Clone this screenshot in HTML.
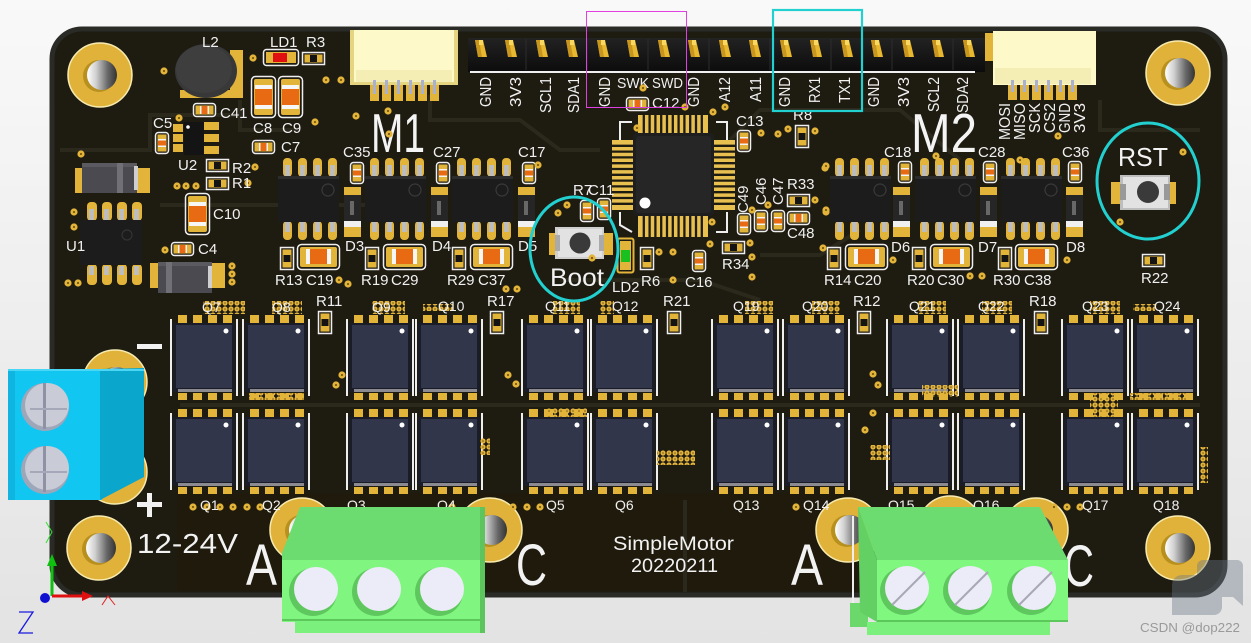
<!DOCTYPE html>
<html><head><meta charset="utf-8"><style>
html,body{margin:0;padding:0;background:#f2f2f2;}
svg{display:block;}
text{font-family:"Liberation Sans",sans-serif;}
</style></head><body>
<svg width="1251" height="643" viewBox="0 0 1251 643" xmlns="http://www.w3.org/2000/svg">
<defs>
<linearGradient id="bg" x1="0" y1="0" x2="0" y2="1"><stop offset="0" stop-color="#f9f9f9"/><stop offset="1" stop-color="#e3e3e3"/></linearGradient>
<linearGradient id="hole" x1="0" y1="0" x2="1" y2="0"><stop offset="0" stop-color="#ffffff"/><stop offset="0.3" stop-color="#d0d0d0"/><stop offset="0.7" stop-color="#666"/><stop offset="1" stop-color="#333"/></linearGradient>
<linearGradient id="hdr" x1="0" y1="0" x2="0" y2="1"><stop offset="0" stop-color="#222"/><stop offset="1" stop-color="#0c0c0c"/></linearGradient>
<pattern id="vias" width="6" height="6" patternUnits="userSpaceOnUse"><circle cx="3" cy="3" r="2.6" fill="#e3b43a"/><circle cx="3" cy="3" r="0.8" fill="#7a5a10"/></pattern>
<g id="mount"><circle r="32" fill="#e0b23a" stroke="#f7ebb0" stroke-width="1.5"/><circle cx="-1" cy="1" r="16" fill="#b8901e"/><circle cx="2" cy="0" r="15" fill="url(#hole)"/></g>
<g id="q">
<rect x="-3" y="-4" width="2" height="77" fill="#eee"/><rect x="63" y="-4" width="2" height="77" fill="#eee"/>
<rect x="5" y="-8" width="9" height="8" fill="#e3b43a"/><rect x="20" y="-8" width="9" height="8" fill="#e3b43a"/><rect x="35" y="-8" width="9" height="8" fill="#e3b43a"/><rect x="50" y="-8" width="9" height="8" fill="#e3b43a"/>
<rect x="0" y="0" width="62" height="69" fill="#1a1d28"/><rect x="3" y="2" width="56" height="63" fill="#31364a"/>
<rect x="5" y="70" width="9" height="7" fill="#e3b43a"/><rect x="20" y="70" width="9" height="7" fill="#e3b43a"/><rect x="35" y="70" width="9" height="7" fill="#e3b43a"/><rect x="50" y="70" width="9" height="7" fill="#e3b43a"/>
<rect x="5" y="66" width="54" height="3" fill="#8a8a90"/>
<circle cx="53" cy="8" r="2.5" fill="#fff"/>
</g>
<g id="ic">
<rect x="5" y="-18" width="9" height="19" rx="4" fill="#e3b43a"/><rect x="20" y="-18" width="9" height="19" rx="4" fill="#e3b43a"/><rect x="35" y="-18" width="9" height="19" rx="4" fill="#e3b43a"/><rect x="50" y="-18" width="9" height="19" rx="4" fill="#e3b43a"/>
<rect x="7" y="-11" width="5" height="11" fill="#bdbdbd"/><rect x="22" y="-11" width="5" height="11" fill="#bdbdbd"/><rect x="37" y="-11" width="5" height="11" fill="#bdbdbd"/><rect x="52" y="-11" width="5" height="11" fill="#bdbdbd"/>
<rect x="5" y="45" width="9" height="19" rx="4" fill="#e3b43a"/><rect x="20" y="45" width="9" height="19" rx="4" fill="#e3b43a"/><rect x="35" y="45" width="9" height="19" rx="4" fill="#e3b43a"/><rect x="50" y="45" width="9" height="19" rx="4" fill="#e3b43a"/>
<rect x="7" y="46" width="5" height="10" fill="#bdbdbd"/><rect x="22" y="46" width="5" height="10" fill="#bdbdbd"/><rect x="37" y="46" width="5" height="10" fill="#bdbdbd"/><rect x="52" y="46" width="5" height="10" fill="#bdbdbd"/>
<rect x="0" y="0" width="61" height="46" fill="#1c1c1c"/><rect x="0" y="0" width="61" height="3" fill="#2c2c2c"/>
<circle cx="50" cy="14" r="6" fill="none" stroke="#3a3a3a" stroke-width="1.2"/>
</g>
<g id="d"><rect x="0" y="0" width="17" height="10" fill="#e3b43a"/><rect x="0" y="40" width="17" height="10" fill="#e3b43a"/><rect x="0" y="8" width="17" height="28" fill="#262626"/><rect x="0" y="34" width="17" height="6" fill="#f0f0f0"/><rect x="6" y="14" width="4" height="14" fill="#aaa" opacity="0.5"/></g>
<g id="r"><rect x="0.5" y="0.5" width="13" height="22" fill="none" stroke="#eee" stroke-width="1.5"/><rect x="2.5" y="2.5" width="9" height="18" fill="#e3b43a"/><rect x="3.5" y="8" width="7" height="7" fill="#141414"/></g>
<g id="rh"><rect x="0.5" y="0.5" width="22" height="12" fill="none" stroke="#eee" stroke-width="1.5"/><rect x="2.5" y="2.5" width="18" height="8" fill="#e3b43a"/><rect x="8" y="3" width="7" height="7" fill="#141414"/></g>
<g id="c"><rect x="0.5" y="0.5" width="13" height="21" rx="3" fill="none" stroke="#eee" stroke-width="1.5"/><rect x="2.5" y="2.5" width="9" height="17" fill="#e3b43a"/><rect x="3" y="7" width="8" height="8" fill="#f4f4f4"/><rect x="3" y="8.5" width="8" height="5" fill="#e86a12"/></g>
<g id="ch"><rect x="0.5" y="0.5" width="22" height="13" rx="3" fill="none" stroke="#eee" stroke-width="1.5"/><rect x="2.5" y="2.5" width="18" height="9" fill="#e3b43a"/><rect x="7" y="3" width="9" height="8" fill="#f4f4f4"/><rect x="8.5" y="3" width="6" height="8" fill="#e86a12"/></g>
<g id="bc"><rect x="0.5" y="0.5" width="42" height="25" rx="4" fill="none" stroke="#eee" stroke-width="1.5"/><rect x="3" y="3" width="37" height="20" rx="2" fill="#e3b43a"/><rect x="9" y="5" width="25" height="15" fill="#f6f6f6"/><rect x="13" y="5" width="17" height="15" fill="#e86a12"/></g>
<g id="bcv"><rect x="0.5" y="0.5" width="24" height="41" rx="4" fill="none" stroke="#eee" stroke-width="1.5"/><rect x="3" y="3" width="19" height="36" rx="2" fill="#e3b43a"/><rect x="4" y="9" width="17" height="24" fill="#f6f6f6"/><rect x="4" y="13" width="17" height="16" fill="#e86a12"/></g>
<g id="pin"><polygon points="-5,40 3,40 7,57 -2,57" fill="#e8b830"/><polygon points="-5,40 -1,40 2,57 -2,57" fill="#c8961e"/><rect x="-1" y="40" width="4" height="5" fill="#f8d860"/></g>
<g id="v"><circle r="3.6" fill="#e3b43a"/><circle r="1.1" fill="#7a5a10"/></g>
</defs>

<rect width="1251" height="643" fill="url(#bg)"/>

<!-- board -->
<rect x="52" y="29" width="1173" height="566" rx="30" fill="#1e1b11" stroke="#2a2a26" stroke-width="5"/>
<rect x="177" y="493" width="680" height="98" fill="#1f1a0c"/>
<g stroke="#2b281c" stroke-width="4" fill="none">
<polyline points="60,150 150,150 150,115 240,115"/>
<polyline points="160,205 380,205 380,175"/>
<polyline points="240,100 240,130 300,130"/>
<polyline points="430,95 430,120 520,120 560,150 600,150"/>
<polyline points="730,140 760,110 900,110 960,160"/>
<polyline points="560,280 700,280 760,300"/>
<polyline points="180,405 1200,405"/>
<polyline points="1100,100 1100,130 1200,130"/>
<polyline points="760,255 820,255 860,230"/>
<polyline points="685,500 685,592"/>
</g>

<!-- mounting holes -->
<use href="#mount" x="100" y="75"/>
<use href="#mount" x="1178" y="73"/>
<use href="#mount" x="99" y="548"/>
<use href="#mount" x="1178" y="548"/>
<use href="#mount" x="115" y="382"/>
<use href="#mount" x="115" y="472"/>
<use href="#mount" x="302" y="530"/>
<use href="#mount" x="490" y="530"/>
<use href="#mount" x="848" y="530"/>
<use href="#mount" x="950" y="528"/>
<use href="#mount" x="1036" y="530"/>

<!-- JST connectors -->
<rect x="350" y="30" width="108" height="55" fill="#e6d580"/>
<rect x="354" y="30" width="100" height="52" fill="#fdf9c8"/>
<rect x="356" y="70" width="96" height="12" fill="#f4eeb4"/>
<g fill="#e3b43a"><rect x="370" y="85" width="9" height="16"/><rect x="382" y="85" width="9" height="16"/><rect x="394" y="85" width="9" height="16"/><rect x="406" y="85" width="9" height="16"/><rect x="418" y="85" width="9" height="16"/><rect x="430" y="85" width="9" height="16"/></g>
<g fill="#aab0d0"><rect x="373" y="80" width="3" height="14"/><rect x="385" y="80" width="3" height="14"/><rect x="397" y="80" width="3" height="14"/><rect x="409" y="80" width="3" height="14"/><rect x="421" y="80" width="3" height="14"/><rect x="433" y="80" width="3" height="14"/></g>
<rect x="985" y="33" width="12" height="28" fill="#e3b43a"/>
<rect x="993" y="31" width="103" height="54" fill="#fdf9c8"/>
<rect x="995" y="68" width="96" height="16" fill="#f4eeb4"/>
<g fill="#e3b43a"><rect x="1008" y="85" width="9" height="15"/><rect x="1020" y="85" width="9" height="15"/><rect x="1032" y="85" width="9" height="15"/><rect x="1044" y="85" width="9" height="15"/><rect x="1056" y="85" width="9" height="15"/><rect x="1068" y="85" width="9" height="15"/></g>
<g fill="#aab0d0"><rect x="1011" y="80" width="3" height="12"/><rect x="1023" y="80" width="3" height="12"/><rect x="1035" y="80" width="3" height="12"/><rect x="1047" y="80" width="3" height="12"/><rect x="1059" y="80" width="3" height="12"/><rect x="1071" y="80" width="3" height="12"/></g>

<!-- pin header -->
<rect x="468" y="38" width="517" height="34" fill="url(#hdr)"/>
<rect x="470" y="71" width="505" height="2" fill="#f0f0f0"/>
<g stroke="#2c2c2c" stroke-width="1"><line x1="526" y1="39" x2="526" y2="70"/><line x1="587" y1="39" x2="587" y2="70"/><line x1="648" y1="39" x2="648" y2="70"/><line x1="709" y1="39" x2="709" y2="70"/><line x1="770" y1="39" x2="770" y2="70"/><line x1="831" y1="39" x2="831" y2="70"/><line x1="892" y1="39" x2="892" y2="70"/><line x1="953" y1="39" x2="953" y2="70"/></g>
<use href="#pin" x="480"/><use href="#pin" x="510"/><use href="#pin" x="541"/><use href="#pin" x="571"/><use href="#pin" x="602"/><use href="#pin" x="632"/><use href="#pin" x="663"/><use href="#pin" x="693"/><use href="#pin" x="724"/><use href="#pin" x="754"/><use href="#pin" x="785"/><use href="#pin" x="815"/><use href="#pin" x="846"/><use href="#pin" x="876"/><use href="#pin" x="907"/><use href="#pin" x="937"/><use href="#pin" x="968"/>

<!-- header labels -->
<g fill="#f2f2f2" font-size="16" text-anchor="end">
<text transform="translate(491,77) rotate(-90)" textLength="30" lengthAdjust="spacingAndGlyphs">GND</text>
<text transform="translate(521,77) rotate(-90)" textLength="30" lengthAdjust="spacingAndGlyphs">3V3</text>
<text transform="translate(551,77) rotate(-90)" textLength="36" lengthAdjust="spacingAndGlyphs">SCL1</text>
<text transform="translate(579,77) rotate(-90)" textLength="36" lengthAdjust="spacingAndGlyphs">SDA1</text>
<text transform="translate(610,77) rotate(-90)" textLength="30" lengthAdjust="spacingAndGlyphs">GND</text>
<text transform="translate(699,77) rotate(-90)" textLength="30" lengthAdjust="spacingAndGlyphs">GND</text>
<text transform="translate(730,77) rotate(-90)" textLength="25" lengthAdjust="spacingAndGlyphs">A12</text>
<text transform="translate(761,77) rotate(-90)" textLength="25" lengthAdjust="spacingAndGlyphs">A11</text>
<text transform="translate(790,77) rotate(-90)" textLength="30" lengthAdjust="spacingAndGlyphs">GND</text>
<text transform="translate(820,77) rotate(-90)" textLength="26" lengthAdjust="spacingAndGlyphs">RX1</text>
<text transform="translate(850,77) rotate(-90)" textLength="26" lengthAdjust="spacingAndGlyphs">TX1</text>
<text transform="translate(879,77) rotate(-90)" textLength="30" lengthAdjust="spacingAndGlyphs">GND</text>
<text transform="translate(909,77) rotate(-90)" textLength="30" lengthAdjust="spacingAndGlyphs">3V3</text>
<text transform="translate(939,77) rotate(-90)" textLength="35" lengthAdjust="spacingAndGlyphs">SCL2</text>
<text transform="translate(968,77) rotate(-90)" textLength="36" lengthAdjust="spacingAndGlyphs">SDA2</text>
<text transform="translate(1010,103) rotate(-90)" textLength="37" lengthAdjust="spacingAndGlyphs">MOSI</text>
<text transform="translate(1025,103) rotate(-90)" textLength="37" lengthAdjust="spacingAndGlyphs">MISO</text>
<text transform="translate(1040,103) rotate(-90)" textLength="30" lengthAdjust="spacingAndGlyphs">SCK</text>
<text transform="translate(1055,103) rotate(-90)" textLength="30" lengthAdjust="spacingAndGlyphs">CS2</text>
<text transform="translate(1070,103) rotate(-90)" textLength="30" lengthAdjust="spacingAndGlyphs">GND</text>
<text transform="translate(1085,103) rotate(-90)" textLength="30" lengthAdjust="spacingAndGlyphs">3V3</text>
</g>
<g fill="#f2f2f2" font-size="15"><text x="617" y="88" textLength="32" lengthAdjust="spacingAndGlyphs">SWK</text><text x="652" y="88" textLength="31" lengthAdjust="spacingAndGlyphs">SWD</text></g>

<!-- M1 / M2 -->
<g fill="#f4f4f4" font-size="55"><text x="371" y="152" textLength="54" lengthAdjust="spacingAndGlyphs">M1</text><text x="911" y="152" textLength="66" lengthAdjust="spacingAndGlyphs">M2</text></g>

<!-- left power section -->
<rect x="180" y="90" width="63" height="8" fill="#e3b43a"/><rect x="230" y="50" width="13" height="48" fill="#e3b43a"/>
<ellipse cx="206" cy="71" rx="31" ry="27" fill="#383838"/><ellipse cx="204" cy="69" rx="28" ry="24" fill="#3e3e3e"/>
<rect x="263.5" y="49.5" width="35" height="16" rx="3" fill="none" stroke="#eee" stroke-width="1.5"/><rect x="266" y="52" width="30" height="11" fill="#e3b43a"/><rect x="273" y="53" width="14" height="9" fill="#e01010"/>
<use href="#rh" x="302" y="52"/>
<use href="#bcv" x="251" y="76"/><use href="#bcv" x="278" y="76"/>
<use href="#ch" x="193" y="103"/>
<g fill="#e3b43a"><rect x="173" y="124" width="10" height="8"/><rect x="173" y="134" width="10" height="8"/><rect x="173" y="144" width="10" height="8"/><rect x="204" y="122" width="15" height="8"/><rect x="204" y="134" width="15" height="8"/><rect x="204" y="146" width="15" height="8"/></g>
<rect x="184" y="122" width="20" height="33" fill="#141414"/><circle cx="188" cy="127" r="1.8" fill="#fff"/>
<use href="#c" x="155" y="132"/>
<use href="#ch" x="252" y="140"/>
<use href="#rh" x="206" y="159"/><use href="#rh" x="206" y="177"/>
<use href="#bcv" x="185" y="193"/>
<use href="#ch" x="171" y="242"/>
<!-- SMA diodes -->
<rect x="75" y="168" width="75" height="25" fill="#e3b43a"/><rect x="82" y="163" width="55" height="30" fill="#4a4a50"/><rect x="82" y="163" width="55" height="4" fill="#5a5a60"/><rect x="117" y="163" width="6" height="30" fill="#707076"/><rect x="134" y="166" width="4" height="24" fill="#cfcfcf"/>
<rect x="150" y="263" width="75" height="25" fill="#e3b43a"/><rect x="158" y="262" width="54" height="31" fill="#4a4a50"/><rect x="158" y="262" width="54" height="4" fill="#5a5a60"/><rect x="166" y="262" width="6" height="31" fill="#707076"/><rect x="208" y="266" width="4" height="22" fill="#cfcfcf"/>
<!-- U1 -->
<g fill="#e3b43a"><rect x="87" y="202" width="10" height="19" rx="4"/><rect x="102" y="202" width="10" height="19" rx="4"/><rect x="117" y="202" width="10" height="19" rx="4"/><rect x="132" y="202" width="10" height="19" rx="4"/><rect x="87" y="264" width="10" height="21" rx="4"/><rect x="102" y="264" width="10" height="21" rx="4"/><rect x="117" y="264" width="10" height="21" rx="4"/><rect x="132" y="264" width="10" height="21" rx="4"/></g>
<g fill="#bdbdbd"><rect x="89" y="209" width="5" height="11"/><rect x="104" y="209" width="5" height="11"/><rect x="119" y="209" width="5" height="11"/><rect x="134" y="209" width="5" height="11"/><rect x="89" y="266" width="5" height="9"/><rect x="104" y="266" width="5" height="9"/><rect x="119" y="266" width="5" height="9"/><rect x="134" y="266" width="5" height="9"/></g>
<rect x="80" y="220" width="62" height="45" fill="#1c1c1c"/><circle cx="127" cy="235" r="5" fill="none" stroke="#333" stroke-width="1.2"/>

<!-- driver ICs -->
<use href="#ic" x="278" y="176"/><use href="#ic" x="365" y="176"/><use href="#ic" x="452" y="176"/>
<use href="#ic" x="830" y="176"/><use href="#ic" x="915" y="176"/><use href="#ic" x="1001" y="176"/>
<use href="#d" x="344" y="187"/><use href="#d" x="431" y="187"/><use href="#d" x="518" y="187"/>
<use href="#d" x="893" y="187"/><use href="#d" x="980" y="187"/><use href="#d" x="1066" y="187"/>
<use href="#c" x="350" y="162"/><use href="#c" x="436" y="162"/><use href="#c" x="522" y="162"/>
<use href="#c" x="898" y="161"/><use href="#c" x="983" y="161"/><use href="#c" x="1068" y="161"/>
<use href="#r" x="280" y="247"/><use href="#r" x="365" y="247"/><use href="#r" x="452" y="247"/>
<use href="#r" x="827" y="247"/><use href="#r" x="912" y="247"/><use href="#r" x="998" y="247"/>
<use href="#bc" x="297" y="244"/><use href="#bc" x="383" y="244"/><use href="#bc" x="470" y="244"/>
<use href="#bc" x="845" y="244"/><use href="#bc" x="930" y="244"/><use href="#bc" x="1015" y="244"/>
<use href="#r" x="318" y="311"/><use href="#r" x="490" y="311"/><use href="#r" x="667" y="311"/>
<use href="#r" x="857" y="311"/><use href="#r" x="1034" y="311"/>
<use href="#rh" x="1142" y="254"/>

<!-- MCU -->
<g fill="#e8c050">
<rect x="638" y="115" width="70" height="19"/><rect x="612" y="140" width="22" height="70"/><rect x="713" y="140" width="22" height="70"/><rect x="638" y="215" width="70" height="22"/>
</g>
<g stroke="#1e1b11" stroke-width="2.3">
<path d="M643.8 115v19M649.6 115v19M655.4 115v19M661.2 115v19M667 115v19M672.8 115v19M678.6 115v19M684.4 115v19M690.2 115v19M696 115v19M701.8 115v19"/>
<path d="M643.8 215v22M649.6 215v22M655.4 215v22M661.2 215v22M667 215v22M672.8 215v22M678.6 215v22M684.4 215v22M690.2 215v22M696 215v22M701.8 215v22"/>
<path d="M612 145.8h22M612 151.6h22M612 157.4h22M612 163.2h22M612 169h22M612 174.8h22M612 180.6h22M612 186.4h22M612 192.2h22M612 198h22M612 203.8h22"/>
<path d="M713 145.8h22M713 151.6h22M713 157.4h22M713 163.2h22M713 169h22M713 174.8h22M713 180.6h22M713 186.4h22M713 192.2h22M713 198h22M713 203.8h22"/>
</g>
<rect x="633" y="133" width="81" height="83" rx="4" fill="#1e1e1e"/><rect x="636" y="136" width="75" height="77" rx="3" fill="#262626"/>
<circle cx="645" cy="203" r="5.5" fill="#fff"/>
<g stroke="#eee" stroke-width="2" fill="none"><polyline points="620,140 620,122 632,122"/><polyline points="716,122 727,122 727,140"/><polyline points="620,212 620,225 632,232"/><polyline points="716,232 727,232 727,212"/></g>
<use href="#ch" x="626" y="97"/>
<use href="#c" x="737" y="130"/>
<use href="#r" x="795" y="125"/>
<use href="#c" x="580" y="200"/><use href="#c" x="597" y="198"/>
<use href="#c" x="737" y="213"/><use href="#c" x="754" y="210"/><use href="#c" x="771" y="210"/>
<use href="#rh" x="787" y="194"/><use href="#ch" x="787" y="211"/>
<use href="#rh" x="722" y="241"/>
<use href="#c" x="692" y="250"/>
<use href="#r" x="640" y="247"/>
<rect x="617.5" y="238.5" width="16" height="34" rx="2" fill="none" stroke="#e3b43a" stroke-width="2"/><rect x="620" y="241" width="11" height="29" fill="#e3b43a"/><rect x="621" y="250" width="9" height="12" fill="#18c020"/>

<!-- Boot button -->
<rect x="549" y="233" width="9" height="22" fill="#e3b43a"/><rect x="602" y="233" width="11" height="22" fill="#e3b43a"/>
<rect x="555" y="227" width="49" height="32" fill="#cfcfcf"/><rect x="558" y="229" width="44" height="28" fill="#e2e2e2"/><rect x="555" y="235" width="5" height="16" fill="#aaa"/><rect x="599" y="235" width="5" height="16" fill="#aaa"/>
<circle cx="580" cy="243" r="10.5" fill="#3a3a3a"/>
<text x="550" y="286" font-size="25" fill="#f2f2f2" textLength="54" lengthAdjust="spacingAndGlyphs">Boot</text>
<!-- RST button -->
<rect x="1111" y="182" width="11" height="22" fill="#e3b43a"/><rect x="1166" y="182" width="10" height="22" fill="#e3b43a"/>
<rect x="1120" y="175" width="50" height="35" fill="#bdbdbd"/><rect x="1123" y="177" width="45" height="31" fill="#e2e2e2"/><rect x="1120" y="184" width="6" height="16" fill="#999"/><rect x="1164" y="184" width="6" height="16" fill="#999"/>
<circle cx="1148" cy="192" r="11" fill="#3a3a3a"/>
<text x="1118" y="166" font-size="26" fill="#f4f4f4" textLength="50" lengthAdjust="spacingAndGlyphs">RST</text>

<!-- MOSFETs -->
<g>
<use href="#q" x="173" y="323"/><use href="#q" x="245" y="323"/><use href="#q" x="349" y="323"/><use href="#q" x="418" y="323"/><use href="#q" x="524" y="323"/><use href="#q" x="593" y="323"/><use href="#q" x="714" y="323"/><use href="#q" x="785" y="323"/><use href="#q" x="889" y="323"/><use href="#q" x="960" y="323"/><use href="#q" x="1064" y="323"/><use href="#q" x="1134" y="323"/>
<use href="#q" x="173" y="417"/><use href="#q" x="245" y="417"/><use href="#q" x="349" y="417"/><use href="#q" x="418" y="417"/><use href="#q" x="524" y="417"/><use href="#q" x="593" y="417"/><use href="#q" x="714" y="417"/><use href="#q" x="785" y="417"/><use href="#q" x="889" y="417"/><use href="#q" x="960" y="417"/><use href="#q" x="1064" y="417"/><use href="#q" x="1134" y="417"/>
</g>

<!-- via clusters -->
<g fill="url(#vias)">
<rect x="203" y="301" width="42" height="13"/><rect x="272" y="301" width="30" height="13"/><rect x="372" y="301" width="33" height="13"/><rect x="423" y="304" width="30" height="7"/>
<rect x="553" y="301" width="27" height="13"/><rect x="600" y="301" width="14" height="13"/><rect x="745" y="301" width="28" height="13"/><rect x="812" y="301" width="28" height="13"/>
<rect x="918" y="301" width="28" height="13"/><rect x="982" y="301" width="30" height="13"/><rect x="1090" y="301" width="30" height="13"/><rect x="1133" y="304" width="22" height="7"/>
<rect x="249" y="393" width="55" height="7"/><rect x="545" y="408" width="42" height="9"/><rect x="657" y="450" width="38" height="15"/><rect x="1090" y="393" width="28" height="24"/>
<rect x="870" y="445" width="20" height="15"/><rect x="1200" y="447" width="8" height="36"/><rect x="922" y="385" width="36" height="12"/><rect x="480" y="438" width="10" height="17"/>
<rect x="1130" y="393" width="48" height="7"/><rect x="1150" y="393" width="40" height="7"/>
</g>
<g>
<use href="#v" x="193" y="507"/><use href="#v" x="207" y="507"/><use href="#v" x="220" y="507"/><use href="#v" x="233" y="507"/><use href="#v" x="247" y="507"/><use href="#v" x="260" y="507"/>
<use href="#v" x="452" y="507"/><use href="#v" x="513" y="507"/><use href="#v" x="527" y="507"/><use href="#v" x="540" y="507"/>
<use href="#v" x="796" y="507"/><use href="#v" x="1054" y="507"/><use href="#v" x="1067" y="507"/><use href="#v" x="1080" y="507"/>
<use href="#v" x="164" y="71"/><use href="#v" x="253" y="58"/><use href="#v" x="326" y="80"/><use href="#v" x="341" y="80"/><use href="#v" x="356" y="116"/><use href="#v" x="315" y="122"/><use href="#v" x="389" y="134"/><use href="#v" x="388" y="111"/><use href="#v" x="179" y="118"/>
<use href="#v" x="255" y="167"/><use href="#v" x="248" y="183"/><use href="#v" x="177" y="186"/><use href="#v" x="186" y="186"/><use href="#v" x="196" y="186"/><use href="#v" x="81" y="154"/><use href="#v" x="74" y="212"/><use href="#v" x="74" y="227"/><use href="#v" x="68" y="283"/><use href="#v" x="78" y="283"/>
<use href="#v" x="232" y="266"/><use href="#v" x="232" y="274"/><use href="#v" x="232" y="282"/><use href="#v" x="165" y="250"/>
<use href="#v" x="643" y="88"/><use href="#v" x="685" y="107"/><use href="#v" x="713" y="112"/><use href="#v" x="725" y="107"/><use href="#v" x="637" y="128"/><use href="#v" x="761" y="133"/><use href="#v" x="778" y="134"/><use href="#v" x="788" y="129"/><use href="#v" x="815" y="131"/>
<use href="#v" x="825" y="168"/><use href="#v" x="826" y="212"/><use href="#v" x="752" y="210"/><use href="#v" x="768" y="205"/><use href="#v" x="815" y="200"/><use href="#v" x="710" y="244"/><use href="#v" x="750" y="243"/><use href="#v" x="752" y="257"/><use href="#v" x="752" y="277"/>
<use href="#v" x="659" y="252"/><use href="#v" x="673" y="252"/><use href="#v" x="673" y="280"/><use href="#v" x="712" y="222"/><use href="#v" x="558" y="213"/><use href="#v" x="567" y="205"/><use href="#v" x="506" y="289"/><use href="#v" x="517" y="289"/><use href="#v" x="538" y="165"/>
<use href="#v" x="339" y="280"/><use href="#v" x="348" y="284"/><use href="#v" x="592" y="258"/><use href="#v" x="823" y="248"/><use href="#v" x="826" y="166"/><use href="#v" x="826" y="210"/>
<use href="#v" x="1183" y="152"/><use href="#v" x="1120" y="222"/><use href="#v" x="1058" y="136"/><use href="#v" x="970" y="276"/><use href="#v" x="982" y="276"/><use href="#v" x="1067" y="260"/><use href="#v" x="893" y="260"/><use href="#v" x="936" y="156"/><use href="#v" x="1020" y="160"/>
<use href="#v" x="508" y="375"/><use href="#v" x="516" y="384"/><use href="#v" x="873" y="374"/><use href="#v" x="878" y="385"/><use href="#v" x="873" y="413"/><use href="#v" x="865" y="430"/><use href="#v" x="342" y="375"/><use href="#v" x="336" y="385"/>
</g>

<!-- silkscreen labels -->
<g fill="#f0f0f0" font-size="15">
<text x="202" y="47">L2</text><text x="270" y="47">LD1</text><text x="306" y="47">R3</text><text x="220" y="118">C41</text><text x="153" y="128">C5</text><text x="253" y="133">C8</text><text x="282" y="133">C9</text><text x="281" y="152">C7</text>
<text x="178" y="170">U2</text><text x="232" y="173">R2</text><text x="232" y="188">R1</text><text x="213" y="219">C10</text><text x="66" y="251">U1</text><text x="198" y="254">C4</text>
<text x="343" y="157">C35</text><text x="345" y="251">D3</text><text x="275" y="285">R13</text><text x="306" y="285">C19</text><text x="361" y="285">R19</text><text x="391" y="285">C29</text><text x="316" y="306">R11</text>
<text x="433" y="157">C27</text><text x="518" y="157">C17</text><text x="432" y="251">D4</text><text x="518" y="251">D5</text><text x="447" y="285">R29</text><text x="478" y="285">C37</text><text x="487" y="306">R17</text>
<text x="573" y="195">R7</text><text x="588" y="195">C11</text><text x="612" y="292">LD2</text><text x="641" y="286">R6</text><text x="685" y="287">C16</text><text x="663" y="306">R21</text><text x="652" y="108">C12</text><text x="736" y="126">C13</text><text x="793" y="120">R8</text>
<text x="787" y="189">R33</text><text x="787" y="238">C48</text><text x="722" y="269">R34</text>
<text x="884" y="157">C18</text><text x="978" y="157">C28</text><text x="1062" y="157">C36</text><text x="891" y="252">D6</text><text x="978" y="252">D7</text><text x="1066" y="252">D8</text>
<text x="824" y="285">R14</text><text x="854" y="285">C20</text><text x="907" y="285">R20</text><text x="937" y="285">C30</text><text x="993" y="285">R30</text><text x="1024" y="285">C38</text>
<text x="853" y="306">R12</text><text x="1029" y="306">R18</text><text x="1141" y="283">R22</text>
<text transform="translate(748,213) rotate(-90)">C49</text><text transform="translate(766,205) rotate(-90)">C46</text><text transform="translate(783,205) rotate(-90)">C47</text>
</g>
<g fill="#f0f0f0" font-size="14">
<text x="202" y="312">Q7</text><text x="272" y="312">Q8</text><text x="372" y="312">Q9</text><text x="438" y="311">Q10</text><text x="545" y="311">Q11</text><text x="612" y="311">Q12</text>
<text x="733" y="311">Q19</text><text x="802" y="311">Q20</text><text x="909" y="311">Q21</text><text x="978" y="311">Q22</text><text x="1082" y="311">Q23</text><text x="1154" y="311">Q24</text>
<text x="200" y="510">Q1</text><text x="262" y="510">Q2</text><text x="347" y="510">Q3</text><text x="437" y="510">Q4</text><text x="546" y="510">Q5</text><text x="615" y="510">Q6</text>
<text x="733" y="510">Q13</text><text x="803" y="510">Q14</text><text x="888" y="510">Q15</text><text x="973" y="510">Q16</text><text x="1082" y="510">Q17</text><text x="1153" y="510">Q18</text>
</g>

<!-- bottom silkscreen -->
<g fill="#f2f2f2">
<rect x="137" y="344" width="25" height="5"/>
<rect x="137" y="502" width="25" height="5"/><rect x="147" y="493" width="5" height="24"/>
<text x="137" y="553" font-size="28" textLength="101" lengthAdjust="spacingAndGlyphs">12-24V</text>
<text x="613" y="550" font-size="19" textLength="121" lengthAdjust="spacingAndGlyphs">SimpleMotor</text>
<text x="631" y="572" font-size="19" textLength="87" lengthAdjust="spacingAndGlyphs">20220211</text>
<g font-size="58"><text x="246" y="585" textLength="31" lengthAdjust="spacingAndGlyphs">A</text><text x="516" y="585" textLength="31" lengthAdjust="spacingAndGlyphs">C</text><text x="791" y="585" textLength="32" lengthAdjust="spacingAndGlyphs">A</text><text x="1064" y="586" textLength="30" lengthAdjust="spacingAndGlyphs">C</text></g>
</g>

<!-- blue terminal -->
<rect x="8" y="370" width="94" height="130" fill="#12c6f2"/>
<rect x="8" y="370" width="7" height="130" fill="#0fb4e0"/>
<polygon points="100,369 144,368 144,477 100,500" fill="#0aa6cc"/>
<rect x="8" y="369" width="136" height="2" fill="#4bd6f6"/>
<circle cx="45" cy="407" r="24" fill="#9ea6ba"/><circle cx="47" cy="405" r="22" fill="#c9ccd6"/>
<rect x="43" y="383" width="3" height="46" fill="#8e92a4"/><rect x="30" y="408" width="37" height="2" fill="#a4a8b8"/>
<circle cx="45" cy="470" r="24" fill="#9ea6ba"/><circle cx="47" cy="468" r="22" fill="#c9ccd6"/>
<rect x="43" y="446" width="3" height="46" fill="#8e92a4"/><rect x="30" y="471" width="37" height="2" fill="#a4a8b8"/>

<!-- green terminal 1 -->
<polygon points="300,507 485,507 485,562 282,562 282,553" fill="#6cdc70"/>
<rect x="282" y="560" width="203" height="62" fill="#80f680"/>
<rect x="295" y="620" width="190" height="13" fill="#7cf07c"/>
<rect x="282" y="619" width="203" height="2" fill="#5cc85c"/>
<rect x="480" y="507" width="5" height="126" fill="#5ec45e"/>
<circle cx="313" cy="592" r="24" fill="#5ec85e"/><circle cx="316" cy="589" r="22" fill="#ececf8"/>
<circle cx="376" cy="592" r="24" fill="#5ec85e"/><circle cx="379" cy="589" r="22" fill="#ececf8"/>
<circle cx="439" cy="592" r="24" fill="#5ec85e"/><circle cx="442" cy="589" r="22" fill="#ececf8"/>

<!-- green terminal 2 -->
<rect x="852" y="516" width="2" height="88" fill="#eee"/>
<rect x="850" y="603" width="18" height="24" fill="#6ad86a"/>
<polygon points="858,507 1040,507 1068,560 877,560" fill="#6cdc70"/>
<polygon points="858,507 877,560 877,622 860,612" fill="#62d062"/>
<rect x="877" y="560" width="191" height="62" fill="#80f880"/>
<rect x="867" y="622" width="183" height="13" fill="#7cf07c"/>
<rect x="877" y="620" width="191" height="2" fill="#5cc85c"/>
<circle cx="904" cy="591" r="24" fill="#5ec85e"/><circle cx="907" cy="588" r="22" fill="#ececf8"/><line x1="892" y1="605" x2="925" y2="572" stroke="#a8a8b4" stroke-width="2"/>
<circle cx="967" cy="591" r="24" fill="#5ec85e"/><circle cx="970" cy="588" r="22" fill="#ececf8"/><line x1="955" y1="605" x2="988" y2="572" stroke="#a8a8b4" stroke-width="2"/>
<circle cx="1031" cy="591" r="24" fill="#5ec85e"/><circle cx="1034" cy="588" r="22" fill="#ececf8"/><line x1="1019" y1="605" x2="1052" y2="572" stroke="#a8a8b4" stroke-width="2"/>

<!-- annotation overlays -->
<rect x="586.5" y="11.5" width="100" height="96" fill="none" stroke="#e040e0" stroke-width="1"/>
<rect x="773" y="10" width="89" height="101" fill="none" stroke="#22d0d0" stroke-width="2.2"/>
<ellipse cx="574" cy="249" rx="44" ry="52" fill="none" stroke="#22d0d0" stroke-width="3"/>
<ellipse cx="1148" cy="181" rx="51" ry="58" fill="none" stroke="#22d0d0" stroke-width="3"/>

<!-- axes -->
<line x1="52" y1="596" x2="52" y2="562" stroke="#10c010" stroke-width="3"/><polygon points="47,566 57,566 52,554" fill="#10c010"/>
<line x1="52" y1="596" x2="84" y2="596" stroke="#e01010" stroke-width="3"/><polygon points="82,591 82,601 93,596" fill="#e01010"/>
<circle cx="45" cy="598" r="5" fill="#1010d0"/>
<polyline points="46,522 52,532 46,543" fill="none" stroke="#30e030" stroke-width="1"/>
<polyline points="102,605 108,596 115,605" fill="none" stroke="#e02020" stroke-width="1"/>
<polyline points="19,612 33,612 19,633 33,633" fill="none" stroke="#1a1ae0" stroke-width="1.3"/>

<!-- watermark -->
<g opacity="0.4" fill="#6a7888">
<path d="M1182 575h32a8 8 0 0 1 8 8v24a8 8 0 0 1 -8 8h-42v-30a10 10 0 0 1 10 -10z"/>
<path d="M1203 560h34a6 6 0 0 1 6 6v40l-10 -9h-30a6 6 0 0 1 -6 -6v-25a6 6 0 0 1 6 -6z"/>
</g>
<text x="1140" y="632" font-size="13" fill="#9a9a9a" textLength="100" lengthAdjust="spacingAndGlyphs">CSDN @dop222</text>
</svg>
</body></html>
